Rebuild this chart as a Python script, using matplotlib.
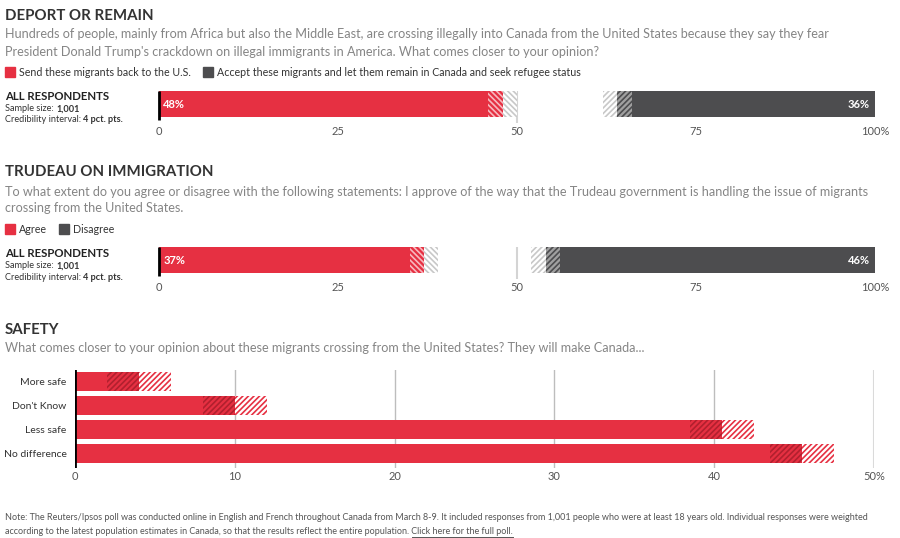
import matplotlib
matplotlib.use('Agg')
import matplotlib.pyplot as plt

plt.rcParams['font.family'] = ['Lato', 'DejaVu Sans']
plt.rcParams['hatch.linewidth'] = 1.2

# ---- data ----
deport_labels = ['Send these migrants back to the U.S.',
                 'Accept these migrants and let them remain in Canada and seek refugee status']
deport_values = [48, 36]
trudeau_labels = ['Agree', 'Disagree']
trudeau_values = [37, 46]
split_ticks = [0, 25, 50, 75, 100]
split_ticklabels = ['0', '25', '50', '75', '100%']

safety_cats = ['More safe', "Don't Know", 'Less safe', 'No difference']
safety_values = [4, 10, 40.5, 45.5]
safety_ticks = [0, 10, 20, 30, 40, 50]
safety_ticklabels = ['0', '10', '20', '30', '40', '50%']

err = 2  # half of the 4 pct. pt. credibility interval

red = '#e63042'
dark = '#4d4d4f'
title_c = '#333333'
sub_c = '#858585'

W, H = 900, 538
fig = plt.figure(figsize=(9, 5.38), dpi=100)
fig.canvas.draw()
rend = fig.canvas.get_renderer()


def axes_px(x0, y0, x1, y1):
    return fig.add_axes([x0 / W, 1 - y1 / H, (x1 - x0) / W, (y1 - y0) / H])


def txt(x, y, s, **kw):
    kw.setdefault('va', 'center')
    return fig.text(x / W, 1 - y / H, s, **kw)


def parts(x, y, pieces, **kw):
    # draws text pieces one after another on the same line
    for s, w in pieces:
        t = txt(x, y, s, fontweight=w, **kw)
        x = t.get_window_extent(rend).x1
    return x


def header(y, title, lines):
    txt(5, y + 1.5, title, fontsize=10.8, fontweight='bold', color=title_c)
    for i, l in enumerate(lines):
        txt(5, y + 20.5 + 17 * i, l, fontsize=9.1, color=sub_c)


def legend(y, labels):
    x = 5
    for lab, c in zip(labels, [red, dark]):
        fig.patches.append(plt.Rectangle((x / W, 1 - (y + 5) / H), 10 / W, 10 / H,
                                         color=c, transform=fig.transFigure))
        t = txt(x + 14, y + 0.5, lab, fontsize=7.7, color=title_c)
        x = t.get_window_extent(rend).x1 + 12


def respondents(y):
    txt(5, y + 0.5, 'ALL RESPONDENTS', fontsize=8.2, fontweight='bold', color='#222222')
    parts(5, y + 13, [('Sample size: ', 'normal'), ('1,001', 'bold')], fontsize=6.6, color='#333333')
    parts(5, y + 24, [('Credibility interval: ', 'normal'), ('4 pct. pts.', 'bold')],
          fontsize=6.6, color='#333333')


def split_panel(y_top, vals):
    ax = axes_px(159, y_top, 875, y_top + 32)
    ax.set_xlim(0, 100)
    ax.set_ylim(0, 32)
    yb, h = 6, 26
    lv, rv = vals
    ax.axvline(50, color='#d4d4d4', lw=1.5, zorder=0)
    ax.barh(yb, lv - err, height=h, left=0, align='edge', color=red, lw=0)
    ax.barh(yb, err, height=h, left=lv - err, align='edge', facecolor=red,
            edgecolor='#f7b8be', hatch='\\\\\\\\\\\\', lw=0)
    ax.barh(yb, err, height=h, left=lv, align='edge', facecolor='white',
            edgecolor='#c8c8c8', hatch='\\\\\\\\\\\\', lw=0)
    ax.barh(yb, rv - err, height=h, left=100 - rv + err, align='edge', color=dark, lw=0)
    ax.barh(yb, err, height=h, left=100 - rv, align='edge', facecolor='#a0a0a0',
            edgecolor=dark, hatch='//////', lw=0)
    ax.barh(yb, err, height=h, left=100 - rv - err, align='edge', facecolor='white',
            edgecolor='#c8c8c8', hatch='//////', lw=0)
    ax.plot([0, 0], [3, 32], color='black', lw=2, clip_on=False, solid_capstyle='butt')
    ax.text(0.6, yb + h / 2, '%d%%' % lv, color='white', fontweight='bold',
            fontsize=8, va='center', ha='left')
    ax.text(99.3, yb + h / 2, '%d%%' % rv, color='white', fontweight='bold',
            fontsize=8, va='center', ha='right')
    ax.set_xticks(split_ticks, split_ticklabels)
    ax.set_yticks([])
    ax.tick_params(length=0, pad=2, labelsize=8, colors='#555555')
    for s in ax.spines.values():
        s.set_visible(False)


# ---- panel 1 ----
header(14, 'DEPORT OR REMAIN',
       ["Hundreds of people, mainly from Africa but also the Middle East, are crossing illegally into Canada from the United States because they say they fear",
        "President Donald Trump's crackdown on illegal immigrants in America. What comes closer to your opinion?"])
legend(72, deport_labels)
respondents(96)
split_panel(91, deport_values)

# ---- panel 2 ----
header(171, 'TRUDEAU ON IMMIGRATION',
       ["To what extent do you agree or disagree with the following statements: I approve of the way that the Trudeau government is handling the issue of migrants",
        "crossing from the United States."])
legend(229, trudeau_labels)
respondents(253)
split_panel(247, trudeau_values)

# ---- panel 3 ----
header(328, 'SAFETY',
       ["What comes closer to your opinion about these migrants crossing from the United States? They will make Canada..."])
ax = axes_px(75, 370, 874, 468)
ax.set_xlim(0, 50)
ax.set_ylim(3.604, -0.479)
for g in safety_ticks[1:-1]:
    ax.axvline(g, color='#bdbdbd', lw=1, zorder=0)
ax.axvline(50, color='#dadada', lw=1.5, zorder=0)
pos = list(range(len(safety_cats)))
sv = safety_values
ax.barh(pos, [v - err for v in sv], height=0.83, color=red, lw=0)
ax.barh(pos, [err] * len(sv), height=0.83, left=[v - err for v in sv],
        facecolor=red, edgecolor='#b1202e', hatch='//////', lw=0)
ax.barh(pos, [err] * len(sv), height=0.83, left=sv,
        facecolor='white', edgecolor=red, hatch='//////', lw=0)
ax.axvline(0, color='black', lw=2)
ax.set_xticks(safety_ticks, safety_ticklabels)
ax.set_yticks(pos, safety_cats)
ax.tick_params(axis='x', length=0, pad=2, labelsize=8, colors='#555555')
ax.tick_params(axis='y', length=0, pad=6, labelsize=7.5, colors='#333333')
for s in ax.spines.values():
    s.set_visible(False)

# ---- note ----
note_kw = dict(fontsize=6.45, color='#555555')
txt(5, 517.5, "Note: The Reuters/Ipsos poll was conducted online in English and French throughout Canada from March 8-9. "
              "It included responses from 1,001 people who were at least 18 years old. Individual responses were weighted",
    **note_kw)
t = txt(5, 531.5, "according to the latest population estimates in Canada, so that the results reflect the entire population.",
        **note_kw)
x0 = t.get_window_extent(rend).x1
lk = txt(x0, 531.5, " Click here for the full poll.", **note_kw)
bb = lk.get_window_extent(rend)
fig.add_artist(plt.Line2D([(bb.x0 + 3) / W, bb.x1 / W], [(bb.y0 - 0.5) / H] * 2,
                          color='#555555', lw=0.7))

fig.savefig('out.png', dpi=100)
